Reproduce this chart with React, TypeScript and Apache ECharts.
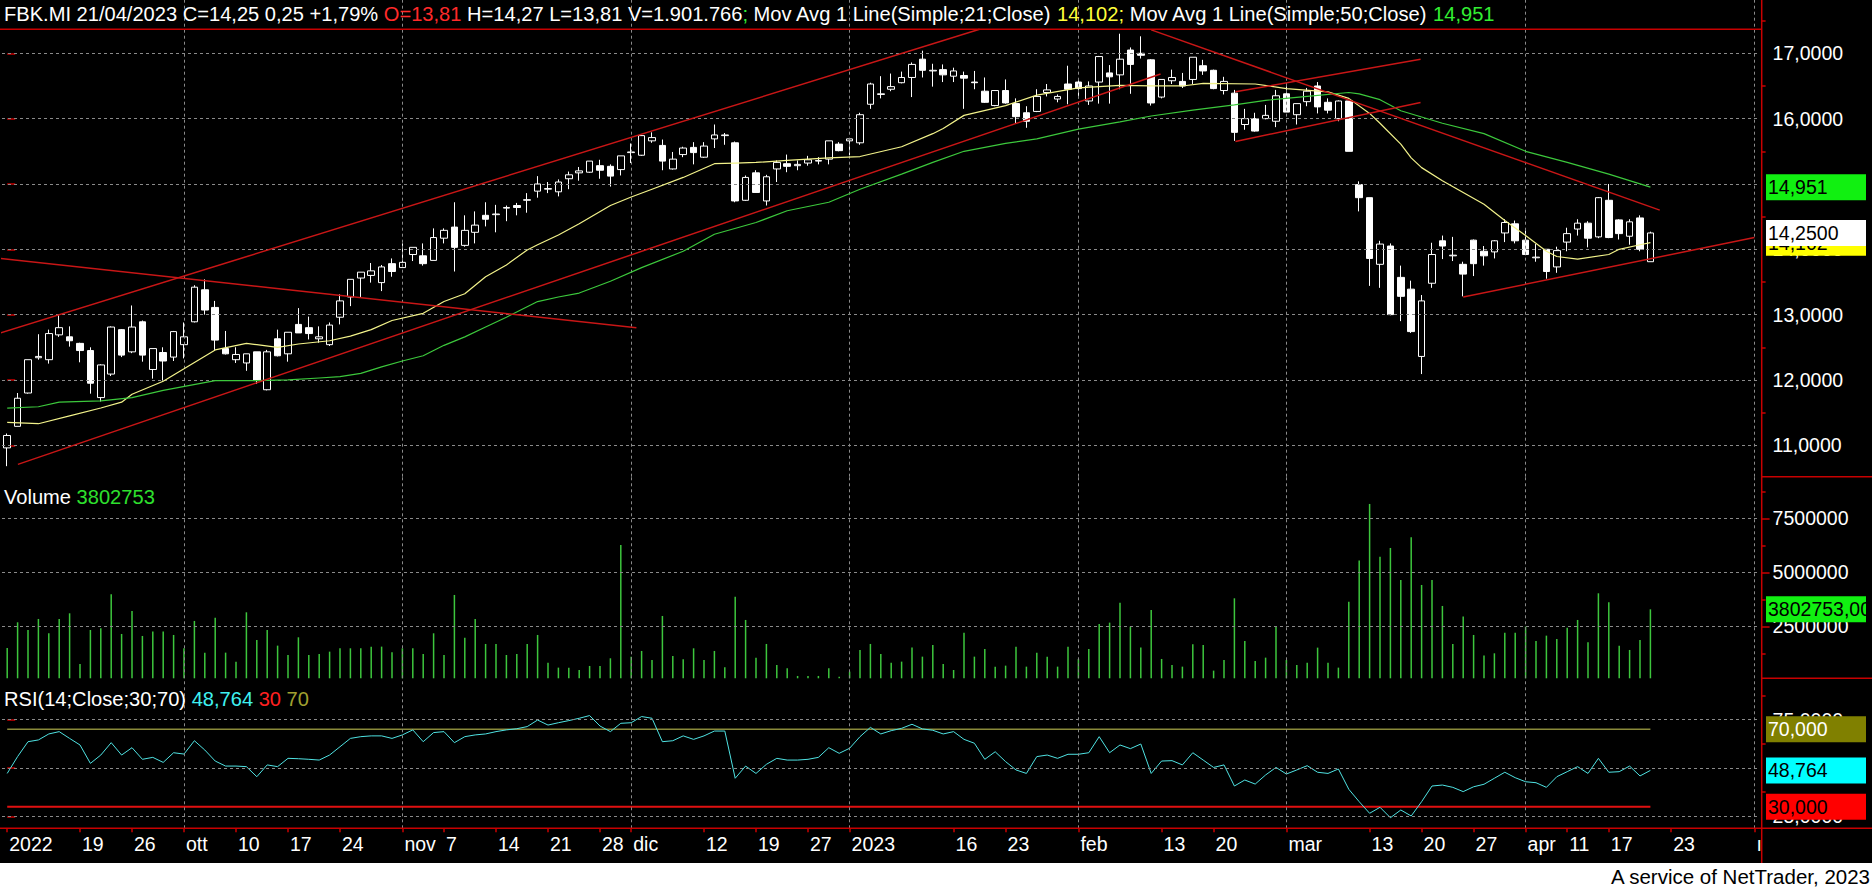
import React, { useEffect, useRef } from "react";
import * as echarts from "echarts";

const FONT = '"Liberation Sans", Arial, Helvetica, sans-serif';
const FS = 19.5;
const TFS = 20.1;
const RED = "#c80000";

const ticker = "FBK.MI";
const lastDateText = "21/04/2023";
const dayVolumeText = "1.901.766";

const opens = [
  10.96, 11.29, 11.8, 12.34, 12.31, 12.69, 12.66, 12.56, 12.45, 11.73,
  12.09, 12.77, 12.43, 12.89, 12.16, 12.42, 12.35, 12.54, 12.89, 13.38,
  13.11, 12.48, 12.31, 12.26, 12.43, 11.85, 12.63, 12.4, 12.85, 12.8,
  12.63, 12.54, 12.96, 13.27, 13.56, 13.6, 13.49, 13.78, 13.72, 13.92,
  13.9, 13.83, 14.17, 14.34, 14.06, 14.26, 14.52, 14.53, 14.63, 14.67,
  14.75, 14.89, 14.92, 14.88, 15.08, 15.17, 15.18, 15.28, 15.27, 15.22,
  15.48, 15.44, 15.66, 15.59, 15.23, 15.45, 15.56, 15.41, 15.69, 15.74,
  15.63, 14.75, 15.17, 14.74, 15.23, 15.31, 15.28, 15.32, 15.35, 15.38,
  15.61, 15.66, 15.63, 16.22, 16.37, 16.45, 16.55, 16.63, 16.91, 16.73,
  16.75, 16.65, 16.66, 16.56, 16.42, 16.2, 16.43, 16.23, 16.09, 16.11,
  16.4, 16.3, 16.53, 16.56, 16.27, 16.56, 16.7, 16.67, 17.05, 17.0,
  16.9, 16.33, 16.58, 16.57, 16.6, 16.81, 16.74, 16.43, 16.39, 15.91,
  16.0, 16.0, 15.96, 16.38, 16.06, 16.26, 16.5, 16.25, 16.0, 16.27,
  14.99, 14.79, 13.77, 14.05, 13.57, 13.39, 12.36, 13.48, 14.13, 13.9,
  13.77, 14.14, 13.97, 13.96, 14.25, 14.39, 14.14, 13.87, 14.0, 13.73,
  14.11, 14.31, 14.4, 14.19, 14.75, 14.45, 14.2, 14.48, 13.81,
];
const closes = [
  11.15, 11.72, 12.31, 12.36, 12.71, 12.8, 12.6, 12.45, 11.95, 12.23,
  12.81, 12.38, 12.81, 12.38, 12.48, 12.29, 12.74, 12.66, 13.42, 13.07,
  12.61, 12.4, 12.39, 12.4, 11.99, 12.43, 12.37, 12.73, 12.72, 12.71,
  12.66, 12.84, 13.21, 13.54, 13.65, 13.67, 13.73, 13.66, 13.8, 14.03,
  13.78, 14.18, 14.29, 14.03, 14.29, 14.37, 14.46, 14.54, 14.64, 14.64,
  14.76, 15.0, 14.93, 15.03, 15.14, 15.2, 15.35, 15.21, 15.12, 15.43,
  15.49, 15.74, 15.71, 15.35, 15.38, 15.55, 15.48, 15.58, 15.75, 15.75,
  14.74, 15.1, 14.87, 15.11, 15.33, 15.27, 15.3, 15.37, 15.36, 15.66,
  15.51, 15.69, 16.06, 16.53, 16.38, 16.49, 16.63, 16.83, 16.74, 16.74,
  16.67, 16.73, 16.62, 16.55, 16.25, 16.43, 16.24, 16.03, 15.96, 16.34,
  16.44, 16.34, 16.45, 16.46, 16.5, 16.95, 16.64, 16.91, 16.83, 16.97,
  16.24, 16.6, 16.63, 16.5, 16.94, 16.73, 16.46, 16.57, 15.79, 16.0,
  15.81, 16.05, 16.35, 16.1, 16.23, 16.42, 16.18, 16.13, 16.27, 15.5,
  14.79, 13.86, 14.08, 13.0, 13.28, 12.74, 13.21, 13.92, 14.05, 13.91,
  13.62, 13.78, 13.9, 14.13, 14.41, 14.13, 13.92, 13.88, 13.66, 13.98,
  14.24, 14.4, 14.17, 14.79, 14.18, 14.24, 14.42, 14.0, 14.25,
];
const highs = [
  11.18, 11.8, 12.31, 12.7, 12.77, 12.99, 12.82, 12.57, 12.5, 12.24,
  12.82, 12.78, 13.14, 12.91, 12.48, 12.5, 12.75, 12.88, 13.45, 13.54,
  13.21, 12.75, 12.5, 12.4, 12.43, 12.46, 12.77, 12.73, 13.1, 12.97,
  12.82, 12.88, 13.31, 13.54, 13.65, 13.79, 13.76, 13.86, 14.09, 14.03,
  14.09, 14.32, 14.32, 14.72, 14.52, 14.58, 14.72, 14.68, 14.67, 14.71,
  14.86, 15.12, 15.03, 15.07, 15.19, 15.26, 15.35, 15.37, 15.3, 15.43,
  15.62, 15.74, 15.79, 15.68, 15.49, 15.57, 15.64, 15.64, 15.91, 15.78,
  15.65, 15.13, 15.21, 15.14, 15.36, 15.45, 15.36, 15.43, 15.41, 15.66,
  15.64, 15.7, 16.09, 16.55, 16.65, 16.69, 16.72, 16.86, 17.04, 16.84,
  16.83, 16.78, 16.72, 16.73, 16.63, 16.43, 16.6, 16.31, 16.19, 16.45,
  16.53, 16.37, 16.81, 16.6, 16.57, 16.96, 16.82, 17.3, 17.09, 17.26,
  16.91, 16.6, 16.75, 16.7, 16.94, 16.9, 16.75, 16.64, 16.44, 16.15,
  16.09, 16.21, 16.44, 16.54, 16.23, 16.47, 16.56, 16.31, 16.28, 16.27,
  15.04, 14.79, 14.13, 14.09, 13.75, 13.52, 13.3, 14.1, 14.21, 14.19,
  13.81, 14.15, 14.05, 14.14, 14.46, 14.44, 14.29, 14.08, 14.0, 14.04,
  14.33, 14.46, 14.43, 14.8, 15.0, 14.46, 14.46, 14.52, 14.27,
];
const lows = [
  10.68, 11.29, 11.79, 12.31, 12.25, 12.66, 12.51, 12.27, 11.79, 11.67,
  12.06, 12.35, 12.41, 12.28, 12.02, 11.99, 12.29, 12.33, 12.88, 13.0,
  12.46, 12.39, 12.26, 12.14, 11.94, 11.84, 12.36, 12.28, 12.72, 12.62,
  12.57, 12.52, 12.85, 13.13, 13.27, 13.49, 13.36, 13.58, 13.72, 13.82,
  13.75, 13.83, 14.09, 13.66, 14.04, 14.09, 14.35, 14.26, 14.43, 14.52,
  14.56, 14.79, 14.86, 14.81, 14.92, 15.05, 15.17, 15.08, 14.96, 15.13,
  15.32, 15.43, 15.63, 15.21, 15.22, 15.41, 15.3, 15.4, 15.55, 15.6,
  14.72, 14.74, 14.87, 14.67, 15.03, 15.18, 15.21, 15.28, 15.3, 15.3,
  15.5, 15.44, 15.6, 16.15, 16.31, 16.42, 16.54, 16.33, 16.63, 16.49,
  16.56, 16.56, 16.15, 16.45, 16.24, 16.19, 16.23, 15.92, 15.86, 16.1,
  16.34, 16.25, 16.22, 16.31, 16.21, 16.23, 16.23, 16.45, 16.38, 16.92,
  16.2, 16.31, 16.53, 16.47, 16.53, 16.67, 16.45, 16.37, 15.66, 15.83,
  15.8, 15.99, 15.87, 16.1, 15.91, 16.19, 16.08, 16.08, 15.96, 15.5,
  14.58, 13.44, 13.41, 12.99, 12.9, 12.72, 12.09, 13.41, 13.85, 13.82,
  13.28, 13.59, 13.75, 13.86, 14.11, 14.09, 13.91, 13.81, 13.55, 13.64,
  13.97, 14.21, 14.03, 14.17, 14.17, 14.15, 14.07, 13.97, 13.81,
];
const volumes = [
  1672000, 3087000, 2664000, 3271000, 2481000, 3271000, 3583000, 790000, 2664000, 2756000,
  4631000, 2444000, 3712000, 2334000, 2573000, 2573000, 2389000, 1654000, 3161000, 1415000,
  3344000, 1415000, 919000, 3638000, 2113000, 2664000, 1801000, 1286000, 2260000, 1286000,
  1341000, 1470000, 1654000, 1654000, 1654000, 1746000, 1746000, 1433000, 1654000, 1654000,
  1341000, 2481000, 1286000, 4594000, 2242000, 3271000, 1893000, 1893000, 1286000, 1341000,
  1893000, 2389000, 864000, 588000, 588000, 459000, 680000, 680000, 1103000, 7350000,
  1194000, 1507000, 1011000, 3436000, 1231000, 1047000, 1654000, 1011000, 1507000, 606000,
  4502000, 3216000, 1139000, 1893000, 735000, 551000, 129000, 129000, 129000, 551000,
  92000, 368000, 1562000, 1893000, 1341000, 864000, 919000, 1691000, 1194000, 1838000,
  790000, 459000, 2517000, 1194000, 1617000, 643000, 698000, 1746000, 643000, 1415000,
  1194000, 643000, 1746000, 1066000, 1617000, 2995000, 3069000, 4171000, 2848000, 1691000,
  3767000, 1066000, 735000, 643000, 1874000, 1838000, 423000, 1011000, 4410000, 2058000,
  956000, 1139000, 2885000, 1011000, 735000, 864000, 1691000, 864000, 588000, 4226000,
  6487000, 9611000, 6707000, 7185000, 5421000, 7773000, 5145000, 5421000, 3988000, 1893000,
  3400000, 2389000, 1250000, 1378000, 2517000, 2517000, 2848000, 2058000, 2352000, 2168000,
  2793000, 3216000, 1985000, 4686000, 4190000, 1801000, 1562000, 2113000, 3802753,
];
const rsiValues = [
  47.2, 55.9, 63.6, 64.5, 67.6, 68.8, 65.3, 61.9, 52.4, 56.7,
  63.1, 56.7, 60.5, 54.5, 55.5, 52.9, 57.9, 57.2, 64.1, 59.3,
  53.6, 51.0, 51.0, 50.7, 45.5, 51.6, 50.7, 55.0, 54.8, 54.5,
  54.1, 56.7, 61.0, 65.3, 66.2, 66.6, 66.6, 65.3, 67.1, 69.7,
  63.6, 68.3, 68.8, 63.1, 66.2, 67.1, 67.6, 68.8, 69.7, 70.3,
  71.4, 74.8, 72.2, 73.4, 74.5, 75.7, 77.1, 71.7, 68.8, 73.1,
  73.4, 76.6, 75.7, 63.6, 64.1, 66.6, 64.8, 66.6, 69.1, 69.1,
  44.7, 51.0, 47.2, 51.9, 55.0, 54.1, 54.1, 54.5, 55.5, 60.5,
  57.6, 60.2, 66.2, 71.0, 67.6, 69.3, 70.5, 72.6, 70.2, 69.5,
  67.6, 68.8, 64.8, 62.8, 54.5, 58.4, 53.3, 49.0, 47.2, 55.9,
  56.7, 55.0, 57.1, 57.1, 57.9, 66.2, 57.9, 61.9, 60.0, 62.4,
  47.2, 53.6, 53.8, 51.6, 57.9, 54.1, 50.3, 51.6, 40.7, 43.8,
  41.7, 46.4, 50.3, 46.9, 49.0, 51.2, 47.8, 47.2, 49.5, 39.0,
  32.6, 26.6, 29.7, 24.3, 28.3, 25.2, 32.6, 40.7, 41.2, 40.0,
  37.8, 40.3, 41.6, 44.7, 47.8, 45.0, 42.9, 42.4, 40.0, 45.5,
  48.1, 50.7, 47.2, 55.0, 47.8, 48.1, 51.0, 45.9, 48.764,
];
// moving averages: [day index, value]
const ma21Points = [
  [0, 11.35], [3, 11.33], [6, 11.45], [9, 11.57], [11, 11.66], [12, 11.78], [15, 11.98],
  [17, 12.17], [20, 12.46], [23, 12.56], [24, 12.54], [26, 12.5], [28, 12.55], [31, 12.6],
  [33, 12.67], [35, 12.77], [37, 12.91], [40, 13.02], [42, 13.2], [44, 13.32], [46, 13.58],
  [48, 13.76], [50, 13.99], [51, 14.07], [53, 14.22], [55, 14.39], [58, 14.67], [60, 14.8],
  [62, 14.92], [65, 15.1], [68, 15.31], [70, 15.32], [72, 15.33], [75, 15.36], [79, 15.4],
  [82, 15.42], [86, 15.57], [89, 15.77], [90, 15.85], [92, 16.05], [96, 16.2], [99, 16.36],
  [103, 16.47], [107, 16.51], [110, 16.5], [113, 16.5], [115, 16.54], [120, 16.53],
  [123, 16.46], [127, 16.41], [129, 16.31], [131, 16.08], [132, 15.93], [134, 15.61],
  [135, 15.4], [136, 15.25], [138, 15.05], [142, 14.69], [144, 14.44], [146, 14.21],
  [148, 13.97], [149, 13.89], [151, 13.85], [154, 13.92], [155, 14.0], [157, 14.07], [158, 14.102],
];
const ma50Points = [
  [0, 11.57], [3, 11.59], [5, 11.66], [9, 11.68], [12, 11.73], [15, 11.84], [20, 11.99],
  [24, 11.99], [27, 12.0], [30, 12.03], [32, 12.05], [34, 12.1], [36, 12.2], [38, 12.29],
  [40, 12.37], [42, 12.53], [44, 12.66], [46, 12.81], [48, 12.96], [51, 13.2], [53, 13.27],
  [55, 13.33], [58, 13.51], [61, 13.72], [65, 13.97], [68, 14.23], [72, 14.41], [75, 14.59],
  [79, 14.72], [82, 14.92], [86, 15.15], [89, 15.33], [92, 15.5], [96, 15.62], [99, 15.69],
  [103, 15.84], [107, 15.95], [110, 16.04], [114, 16.13], [118, 16.21], [121, 16.28],
  [125, 16.34], [129, 16.4], [130, 16.38], [132, 16.29], [134, 16.12], [138, 15.93],
  [142, 15.77], [146, 15.5], [150, 15.33], [154, 15.15], [158, 14.951],
];
// hand-drawn trend lines: [x1, y1, x2, y2] in (day index, price)
const trendLines = [
  [-0.69, 12.718, 93.5, 17.367],
  [1.03, 10.708, 110.9, 16.682],
  [-0.69, 13.862, 60.5, 12.8],
  [110.0, 17.359, 158.9, 14.6],
  [118.1, 16.41, 135.9, 16.908],
  [118.1, 15.651, 135.9, 16.246],
  [140.0, 13.27, 168.0, 14.18],
];

const firstDay = "2022-09-08";
const holidays = ["2022-12-26", "2023-04-07", "2023-04-10"];
const slotCount = 169;

const labelIdx = [0, 7, 12, 17, 22, 27, 32, 38, 42, 47, 52, 57, 60, 67, 72, 77, 81, 91, 96, 103, 111, 116, 123, 131, 136, 141, 146, 150, 154, 160, 168];
const labelText = ["2022", "19", "26", "ott", "10", "17", "24", "nov", "7", "14", "21", "28", "dic", "12", "19", "27", "2023", "16", "23", "feb", "13", "20", "mar", "13", "20", "27", "apr", "11", "17", "23", "ı"];
const monthIdx = [17, 38, 60, 81, 103, 123, 146, 168];

const priceTicks = [11, 12, 13, 14, 15, 16, 17];
const priceMinorTicks = [10.5, 11.5, 12.5, 13.5, 14.5, 15.5, 16.5, 17.5];
const volTicks = [2500000, 5000000, 7500000];
const volMinorTicks = [1250000, 3750000, 6250000, 8750000];
const rsiTicks = [25, 50, 75];
const rsiMinorTicks = [37.5, 62.5, 87.5];
const rsiLevels = [30, 70];

function buildDays(start: string, count: number, skip: string[]): string[] {
  const out: string[] = [];
  const d = new Date(start + "T00:00:00Z");
  while (out.length < count) {
    const day = d.getUTCDay();
    const iso = d.toISOString().slice(0, 10);
    if (day !== 0 && day !== 6 && !skip.includes(iso)) out.push(iso);
    d.setUTCDate(d.getUTCDate() + 1);
  }
  return out;
}

const fmt = (v: number, d: number) => v.toFixed(d).replace(".", ",");

export default function App() {
  const ref = useRef<HTMLDivElement>(null);
  useEffect(() => {
    document.body.style.margin = "0";
    document.body.style.background = "#000";
    const chart = echarts.init(ref.current!, null, { renderer: "svg" });

    const categories = buildDays(firstDay, slotCount, holidays);
    const labelMap: Record<number, string> = {};
    labelIdx.forEach((i, k) => (labelMap[i] = labelText[k]));
    const candles = opens.map((o, i) => [o, closes[i], lows[i], highs[i]]);
    const last = closes.length - 1;
    const C = closes[last];
    const prev = closes[last - 1];
    const chg = C - prev;
    const pct = (chg / prev) * 100;
    const ma21Last = ma21Points[ma21Points.length - 1][1];
    const ma50Last = ma50Points[ma50Points.length - 1][1];
    const rsiLast = rsiValues[last];
    const volLast = volumes[last];

    const GL = 2;
    const GW = 1757.6;
    const grids = [
      { left: GL, width: GW, top: 0, height: 476.7 },
      { left: GL, width: GW, top: 476.7, height: 201.6 },
      { left: GL, width: GW, top: 678.3, height: 150 },
    ];
    const txt = { color: "#fff", fontSize: FS, fontFamily: FONT };
    const gridLine = { type: [3, 3] as any, color: "#8a8a8a", width: 1 };
    const rs = (color: string) => ({ color, fontSize: TFS, fontFamily: FONT, lineHeight: 22 });

    const labelAxis = (grid: number, min: number, max: number, ticks: number[], fmtFn: (v: number) => string) => ({
      type: "value", gridIndex: grid, min, max, position: "right", offset: 2,
      axisLine: { show: false }, splitLine: { show: false },
      axisTick: { show: true, customValues: ticks, length: 8, lineStyle: { color: RED, width: 1.5 } },
      axisLabel: { show: true, customValues: ticks, formatter: fmtFn, margin: 11, ...txt },
    });
    const minorAxis = (grid: number, min: number, max: number, ticks: number[]) => ({
      type: "value", gridIndex: grid, min, max, position: "right", offset: 2,
      axisLine: { show: false }, splitLine: { show: false }, axisLabel: { show: false },
      axisTick: { show: true, customValues: ticks, length: 4, lineStyle: { color: RED, width: 1.5 } },
    });
    const hiddenCat = (grid: number) => ({ type: "category", gridIndex: grid, data: categories, boundaryGap: true, show: false });
    const hiddenVal = (grid: number) => ({ type: "value", gridIndex: grid, min: -0.5, max: slotCount - 0.5, show: false });

    const gridMarks = (xAxisIndex: number, yAxisIndex: number, levels: number[]) => ({
      type: "line", xAxisIndex, yAxisIndex, data: [], z: 1, silent: true,
      markLine: {
        silent: true, symbol: ["none", "none"], label: { show: false }, lineStyle: gridLine, animation: false,
        data: [...levels.map((v) => ({ yAxis: v })), ...monthIdx.map((i) => ({ xAxis: i }))],
      },
    });

    const option: any = {
      animation: false,
      backgroundColor: "#000",
      grid: grids,
      title: [
        {
          left: 4, top: 3, padding: 0,
          text: `{w|${ticker} ${lastDateText} C=${fmt(C, 2)} ${fmt(chg, 2)} +${fmt(pct, 2)}% }{r|O=${fmt(opens[last], 2)}}{w| H=${fmt(highs[last], 2)} L=${fmt(lows[last], 2)} V=${dayVolumeText}}{g|;}{w| Mov Avg 1 Line(Simple;21;Close) }{y|${fmt(ma21Last, 3)};}{w| Mov Avg 1 Line(Simple;50;Close) }{g|${fmt(ma50Last, 3)}}`,
          textStyle: {
            fontSize: TFS, fontFamily: FONT, lineHeight: 22, fontWeight: "normal",
            rich: { w: rs("#fff"), r: rs("#ff2a2a"), g: rs("#33ee33"), y: rs("#ffff3a") },
          },
        },
        {
          left: 4, top: 486, padding: 0,
          text: `{w|Volume }{g|${volLast}}`,
          textStyle: {
            fontSize: TFS, fontFamily: FONT, lineHeight: 22, fontWeight: "normal",
            rich: { w: rs("#fff"), g: rs("#2ee02e") },
          },
        },
        {
          left: 4, top: 688, padding: 0,
          text: `{w|RSI(14;Close;30;70) }{c|${fmt(rsiLast, 3)}}{w| }{r|${rsiLevels[0]}}{w| }{o|${rsiLevels[1]}}`,
          textStyle: {
            fontSize: TFS, fontFamily: FONT, lineHeight: 22, fontWeight: "normal",
            rich: { w: rs("#fff"), c: rs("#3ff0f0"), r: rs("#ff2020"), o: rs("#a0a030") },
          },
        },
      ],
      xAxis: [
        hiddenCat(0),
        hiddenVal(0),
        hiddenCat(1),
        hiddenVal(1),
        {
          type: "category", gridIndex: 2, data: categories, boundaryGap: true,
          axisLine: { show: false },
          axisTick: { show: true, alignWithLabel: true, length: 4, interval: (i: number) => i in labelMap, lineStyle: { color: RED, width: 1.5 } },
          axisLabel: {
            show: true, interval: (i: number) => i in labelMap, formatter: (_v: string, i: number) => labelMap[i] ?? "",
            align: "left", margin: 6, padding: [0, 0, 0, 2], ...txt,
          },
          splitLine: { show: false },
        },
        hiddenVal(2),
      ],
      yAxis: [
        labelAxis(0, 10.519, 17.816, priceTicks, (v) => fmt(v, 4)),
        minorAxis(0, 10.519, 17.816, priceMinorTicks),
        { type: "value", gridIndex: 1, min: 0, max: 11113000, show: false },
        labelAxis(1, 92600, 9426000, volTicks, (v) => String(Math.round(v))),
        minorAxis(1, 92600, 9426000, volMinorTicks),
        labelAxis(2, 18.84, 96.36, rsiTicks, (v) => fmt(v, 4)),
        minorAxis(2, 18.84, 96.36, rsiMinorTicks),
      ],
      series: [
        gridMarks(1, 0, priceTicks),
        {
          type: "candlestick", xAxisIndex: 0, yAxisIndex: 0, data: candles, barWidth: 7, z: 3,
          itemStyle: { color: "#000", color0: "#fff", borderColor: "#fff", borderColor0: "#fff", borderColorDoji: "#fff", borderWidth: 1 },
        },
        {
          type: "line", xAxisIndex: 1, yAxisIndex: 0, data: ma21Points, showSymbol: false, z: 5,
          lineStyle: { color: "#f2f28a", width: 1.2 },
        },
        {
          type: "line", xAxisIndex: 1, yAxisIndex: 0, data: ma50Points, showSymbol: false, z: 5,
          lineStyle: { color: "#3cc83c", width: 1.2 },
        },
        ...trendLines.map((t) => ({
          type: "line", xAxisIndex: 1, yAxisIndex: 0, data: [[t[0], t[1]], [t[2], t[3]]], showSymbol: false, z: 6,
          lineStyle: { color: "#c81616", width: 1.5 },
        })),
        gridMarks(3, 3, volTicks),
        {
          type: "bar", xAxisIndex: 2, yAxisIndex: 2, data: volumes, barWidth: 1.5, z: 3,
          itemStyle: { color: "#3dc63d" },
        },
        gridMarks(5, 5, rsiTicks),
        {
          type: "line", xAxisIndex: 5, yAxisIndex: 5, data: [[0, rsiLevels[1]], [last, rsiLevels[1]]], showSymbol: false, z: 2,
          lineStyle: { color: "#8a8a3a", width: 1.5 },
        },
        {
          type: "line", xAxisIndex: 5, yAxisIndex: 5, data: [[0, rsiLevels[0]], [last, rsiLevels[0]]], showSymbol: false, z: 2,
          lineStyle: { color: "#e01010", width: 2 },
        },
        {
          type: "line", xAxisIndex: 4, yAxisIndex: 5, data: rsiValues, showSymbol: false, z: 4,
          lineStyle: { color: "#4fe2e2", width: 1 },
        },
      ],
    };
    chart.setOption(option);

    const px = (axis: number, v: number) => chart.convertToPixel({ yAxisIndex: axis } as any, v) as unknown as number;
    const AX = 1761.7;
    const font = `${FS}px ${FONT}`;
    let z = 100;
    const tag = (y: number, text: string, bg: string, fg: string) => {
      z += 2;
      return [
        { type: "rect", z, shape: { x: 1766, y: y - 13, width: 100, height: 26 }, style: { fill: bg } },
        { type: "text", z: z + 1, x: 1768, y, style: { text, fill: fg, font, textVerticalAlign: "middle", verticalAlign: "middle" } },
      ];
    };
    const line = (x1: number, y1: number, x2: number, y2: number) => ({
      type: "line", z: 90, shape: { x1, y1, x2, y2 }, style: { stroke: RED, lineWidth: 1.5 },
    });
    const graphic: any[] = [
      line(0, 29.3, AX, 29.3),
      line(AX, 0, AX, 863),
      line(AX, 476.7, 1872, 476.7),
      line(AX, 678.3, 1872, 678.3),
      line(0, 828.3, 1872, 828.3),
      { type: "rect", z: 95, shape: { x: 0, y: 863, width: 1872, height: 25 }, style: { fill: "#fff" } },
      {
        type: "text", z: 96, x: 1870, y: 876,
        style: { text: "A service of NetTrader, 2023", fill: "#000", font: `20.5px ${FONT}`, textAlign: "right", align: "right", textVerticalAlign: "middle", verticalAlign: "middle" },
      },
      ...tag(px(0, ma50Last), fmt(ma50Last, 3), "#11f011", "#000"),
      ...tag(px(0, ma21Last), fmt(ma21Last, 3), "#ffff00", "#000"),
      ...tag(px(0, C), fmt(C, 4), "#ffffff", "#000"),
      ...tag(px(2, volLast), fmt(volLast, 2), "#11f011", "#000"),
      ...tag(px(5, rsiLevels[1]), fmt(rsiLevels[1], 3), "#808000", "#fff"),
      ...tag(px(5, rsiLast), fmt(rsiLast, 3), "#00ffff", "#000"),
      ...tag(px(5, rsiLevels[0]), fmt(rsiLevels[0], 3), "#ff0000", "#000"),
    ];
    chart.setOption({ graphic });

    return () => chart.dispose();
  }, []);
  return <div ref={ref} style={{ width: 1872, height: 888 }} />;
}
